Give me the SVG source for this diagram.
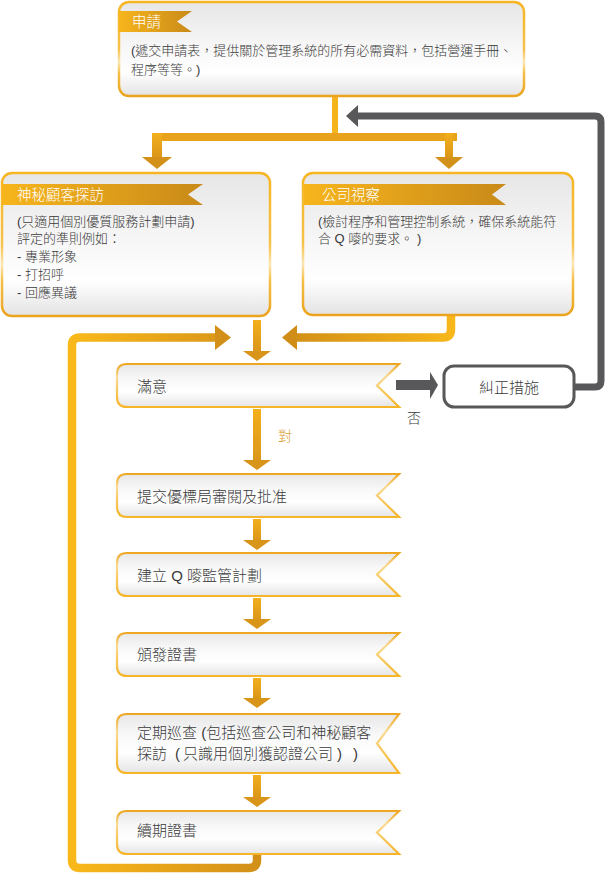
<svg xmlns="http://www.w3.org/2000/svg" width="607" height="876" viewBox="0 0 607 876">
<defs>
<linearGradient id="boxFill" x1="0" y1="0" x2="0" y2="1">
<stop offset="0" stop-color="#E6E6E7"/><stop offset="0.45" stop-color="#F6F6F6"/><stop offset="0.75" stop-color="#FFFFFF"/><stop offset="1" stop-color="#E3E3E3"/>
</linearGradient>
<linearGradient id="boxStroke" x1="0" y1="0" x2="0" y2="1">
<stop offset="0" stop-color="#F7B522"/><stop offset="0.5" stop-color="#F6C24C"/><stop offset="0.64" stop-color="#FBE6B4"/><stop offset="0.76" stop-color="#F4BE45"/><stop offset="1" stop-color="#ECA41D"/>
</linearGradient>
<linearGradient id="ribFill" x1="0" y1="0" x2="0" y2="1">
<stop offset="0" stop-color="#E7E7E8"/><stop offset="0.35" stop-color="#F8F8F8"/><stop offset="0.65" stop-color="#FFFFFF"/><stop offset="1" stop-color="#E5E5E5"/>
</linearGradient>
<linearGradient id="ribStroke" x1="0" y1="0" x2="0" y2="1">
<stop offset="0" stop-color="#EEA621"/><stop offset="0.3" stop-color="#F9DA96"/><stop offset="0.55" stop-color="#F7CB68"/><stop offset="1" stop-color="#F6B428"/>
</linearGradient>
<linearGradient id="tag" x1="0" y1="0" x2="1" y2="0">
<stop offset="0" stop-color="#F7B51C"/><stop offset="1" stop-color="#C98A19"/>
</linearGradient>
<linearGradient id="vArrow" x1="0" y1="0" x2="0" y2="1">
<stop offset="0" stop-color="#F3AF1C"/><stop offset="1" stop-color="#DA961A"/>
</linearGradient>
<linearGradient id="loopL" gradientUnits="userSpaceOnUse" x1="72" y1="0" x2="257" y2="0">
<stop offset="0" stop-color="#F9B81A"/><stop offset="1" stop-color="#D39019"/>
</linearGradient>
<linearGradient id="loopR" gradientUnits="userSpaceOnUse" x1="282" y1="0" x2="455" y2="0">
<stop offset="0" stop-color="#D08D18"/><stop offset="1" stop-color="#F8B71A"/>
</linearGradient>
<style>
.box{fill:url(#boxFill);stroke:url(#boxStroke);stroke-width:2.5}
.rib{fill:url(#ribFill);stroke:url(#ribStroke);stroke-width:2.2}
.tag{fill:url(#tag)}
.t{font-family:"Liberation Sans","Noto Sans CJK TC",sans-serif;font-weight:300;fill:#3A3A3A}
.body{font-size:13px}
.mid{font-size:15px}
.title{font-family:"Liberation Sans","Noto Sans CJK TC",sans-serif;font-weight:300;font-size:14.5px;fill:#FFFFFF}
.va{fill:url(#vArrow)}
.gray{fill:#58585A}
</style>
</defs>

<g id="connectors">
<rect x="332" y="96" width="6" height="41" fill="#F5B31C"/>
<rect x="152" y="133" width="305" height="8" fill="#E8A31A"/>
<rect x="152" y="133" width="10" height="25" class="va"/>
<polygon points="142,157 172,157 157,169" fill="#D4911A"/>
<rect x="445" y="133" width="8" height="25" class="va"/>
<polygon points="435,157 463,157 449,169" fill="#D4911A"/>
<path d="M575,387 H595 Q601,387 601,381 V122 Q601,116 595,116 H356" fill="none" stroke="#58585A" stroke-width="7"/>
<polygon points="346,116 358,105 358,127" class="gray"/>
<rect x="396" y="380" width="34" height="10" class="gray"/>
<polygon points="430,372 438,385 430,399" class="gray"/>
<text x="407" y="423" class="t" style="font-size:14px">否</text>
<path d="M257,854 V860 Q257,868 249,868 H80 Q72,868 72,860 V345 Q72,337.5 80,337.5 H216" fill="none" stroke="url(#loopL)" stroke-width="8.5"/>
<polygon points="215,325 231,337.5 215,350" fill="#D39019"/>
<path d="M451,314 V329.5 Q451,337.5 443,337.5 H296" fill="none" stroke="url(#loopR)" stroke-width="8.5"/>
<polygon points="297,325 282,337.5 297,350" fill="#D08D18"/>
<rect x="253" y="320" width="8" height="32" class="va"/>
<polygon points="243,351 271,351 257,361" fill="#D9951A"/>
<rect x="253" y="409" width="8" height="52" class="va"/>
<polygon points="243,460 271,460 257,470" fill="#D9951A"/>
<text x="278" y="441" style="font-family:'Liberation Sans','Noto Sans CJK TC',sans-serif;font-weight:300;font-size:14px;fill:#D9A030">對</text>
<rect x="253" y="519" width="8" height="22" class="va"/>
<polygon points="243,540 271,540 257,550" fill="#D9951A"/>
<rect x="253" y="598" width="8" height="22" class="va"/>
<polygon points="243,619 271,619 257,629" fill="#D9951A"/>
<rect x="253" y="678" width="8" height="21" class="va"/>
<polygon points="243,698 271,698 257,708" fill="#D9951A"/>
<rect x="253" y="775" width="8" height="23" class="va"/>
<polygon points="243,797 271,797 257,807" fill="#D9951A"/>
</g>

<g id="apply">
<rect x="119" y="2" width="405" height="94" rx="10" class="box"/>
<polygon points="119,11 192,11 177,21.5 192,32 119,32" class="tag"/>
<text x="132" y="27" class="title">申請</text>
<text x="131" y="55" class="t body">(遞交申請表，提供關於管理系統的所有必需資料，包括營運手冊、</text>
<text x="131" y="74" class="t body">程序等等。)</text>
</g>

<g id="mystery">
<rect x="2" y="173" width="268" height="143" rx="10" class="box"/>
<polygon points="2,184 203,184 188,194.5 203,205 2,205" class="tag"/>
<text x="17" y="200" class="title">神秘顧客探訪</text>
<text x="17" y="226" class="t body">(只適用個別優質服務計劃申請)</text>
<text x="17" y="243" class="t body">評定的準則例如：</text>
<text x="17" y="261" class="t body">- 專業形象</text>
<text x="17" y="279" class="t body">- 打招呼</text>
<text x="17" y="297" class="t body">- 回應異議</text>
</g>

<g id="inspect">
<rect x="303" y="173" width="270" height="142" rx="10" class="box"/>
<polygon points="304,184 506,184 492,194.5 506,205 304,205" class="tag"/>
<text x="322" y="200" class="title">公司視察</text>
<text x="318" y="226" class="t body">(檢討程序和管理控制系統，確保系統能符</text>
<text x="318" y="243" class="t body">合 Q 嘜的要求。 )</text>
</g>

<g id="correct">
<rect x="444" y="366" width="130" height="41" rx="10" fill="#FFFFFF" stroke="#58585A" stroke-width="3"/>
<text x="509" y="393" class="t mid" text-anchor="middle">糾正措施</text>
</g>

<g id="satisfied">
<path d="M127,364 H399 L377,385.5 L399,407 H127 Q117,407 117,397 V374 Q117,364 127,364 Z" class="rib"/>
<text x="137" y="392" class="t mid">滿意</text>
</g>

<g id="submit">
<path d="M127,474 H399 L377,495.5 L399,517 H127 Q117,517 117,507 V484 Q117,474 127,474 Z" class="rib"/>
<text x="137" y="502" class="t mid">提交優標局審閱及批准</text>
</g>

<g id="plan">
<path d="M127,553 H399 L377,574.5 L399,596 H127 Q117,596 117,586 V563 Q117,553 127,553 Z" class="rib"/>
<text x="137" y="581" class="t mid">建立 Q 嘜監管計劃</text>
</g>

<g id="issue">
<path d="M127,633 H399 L377,654.5 L399,676 H127 Q117,676 117,666 V643 Q117,633 127,633 Z" class="rib"/>
<text x="137" y="660" class="t mid">頒發證書</text>
</g>

<g id="audit">
<path d="M127,714 H399 L377,743.5 L399,773 H127 Q117,773 117,763 V724 Q117,714 127,714 Z" class="rib"/>
<text x="137" y="738" class="t mid">定期巡查 (包括巡查公司和神秘顧客</text>
<text x="137" y="759" class="t mid">探訪<tspan dx="8">(</tspan><tspan dx="3">只識用個別獲認證公司</tspan><tspan dx="4">)</tspan><tspan dx="11">)</tspan></text>
</g>

<g id="renew">
<path d="M127,811 H399 L377,832.5 L399,854 H127 Q117,854 117,844 V821 Q117,811 127,811 Z" class="rib"/>
<text x="137" y="836" class="t mid">續期證書</text>
</g>
</svg>
